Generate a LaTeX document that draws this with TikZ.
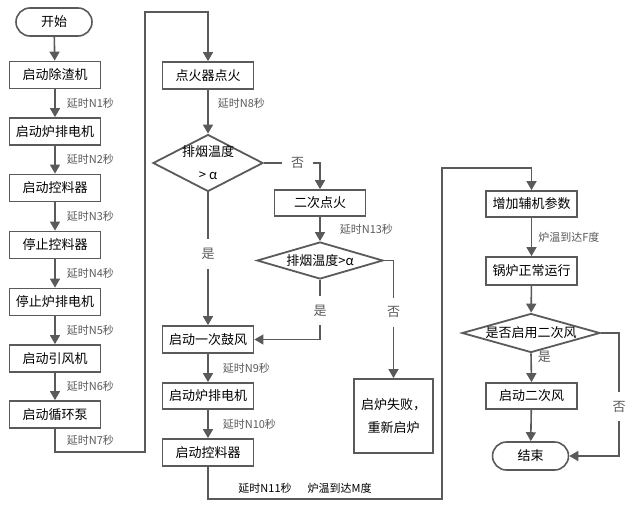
\documentclass[tikz,border=0pt]{standalone}
\usepackage{fontspec}
\setmainfont{Noto Sans CJK SC}
\usepackage{xcolor}
\usetikzlibrary{shapes.geometric, arrows.meta}
\definecolor{linegray}{HTML}{5A5A5A}
\tikzstyle{startstop} = [rectangle, rounded corners=14pt, minimum width=76pt, minimum height=28pt, text centered, draw=linegray, line width=1.6pt, font=\fontsize{13}{16}\selectfont]
\tikzstyle{process} = [rectangle, minimum width=91pt, minimum height=27pt, inner sep=0pt, text centered, draw=linegray, line width=1.8pt, font=\fontsize{13}{16}\selectfont]
\tikzstyle{decision} = [diamond, inner sep=0pt, text centered, draw=linegray, line width=1.8pt, font=\fontsize{13}{16}\selectfont]
\tikzstyle{delay} = [inner sep=0pt, anchor=west, font=\fontsize{11}{13}\selectfont]
\tikzstyle{branch} = [fill=white, inner sep=9pt, font=\fontsize{13}{16}\selectfont]
\tikzstyle{arrow} = [linegray, line width=1.6pt, -{Triangle[width=10pt,length=9pt]}]
\tikzstyle{line} = [linegray, line width=1.6pt]

\begin{document}
\begin{tikzpicture}[x=1pt, y=-1pt]
        \useasboundingbox (0,0) rectangle (628,509);

        % left column
        \node (start) [startstop] at (54,22) {开始};
        \node (slag) [process] at (55,75) {启动除渣机};
        \node (grate) [process] at (55,131.5) {启动炉排电机};
        \node (feeder) [process] at (55,188) {启动控料器};
        \node (stopfeed) [process] at (55,245) {停止控料器};
        \node (stopgrate) [process] at (55,302) {停止炉排电机};
        \node (draft) [process] at (55,358.5) {启动引风机};
        \node (pump) [process] at (55,414.5) {启动循环泵};

        % middle column
        \node (ignite) [process] at (208,75.5) {点火器点火};
        \node (smoke) [decision, minimum width=110pt, minimum height=57pt, align=center] at (208,163)
        {\makebox[0pt]{排烟温度}\\[7pt]\makebox[0pt]{> α}};
        \node (reignite) [process, minimum height=26pt] at (320,203) {二次点火};
        \node (smoke2) [decision, minimum width=126pt, minimum height=37pt] at (320,260.5)
        {\makebox[0pt]{排烟温度>α}};
        \node (fan) [process] at (208,339.5) {启动一次鼓风};
        \node (grate2) [process, minimum height=26pt] at (208,396) {启动炉排电机};
        \node (feeder2) [process] at (208,452.5) {启动控料器};
        \node (fail) [process, minimum width=79pt, minimum height=74pt, align=center] at (393.5,416)
        {启炉失败，\\[7pt]重新启炉};

        % right column
        \node (boost) [process, minimum height=26pt] at (531.5,204) {增加辅机参数};
        \node (normal) [process, minimum height=28pt] at (531.5,271) {锅炉正常运行};
        \node (ask) [decision, minimum width=138pt, minimum height=39pt] at (531,333)
        {\makebox[0pt]{是否启用二次风}};
        \node (fan2) [process, minimum height=26pt] at (531.5,396) {启动二次风};
        \node (finish) [startstop] at (530.5,456) {结束};

        \coordinate (c1) at (145,452);
        \coordinate (c2) at (145,12);
        \coordinate (c3) at (442,499);
        \coordinate (c4) at (442,168);
        \coordinate (c5) at (619,333);

        \draw [arrow] (start) -- (slag);
        \draw [arrow] (slag) -- node[delay, xshift=11pt] {延时N1秒} (grate);
        \draw [arrow] (grate) -- node[delay, xshift=11pt] {延时N2秒} (feeder);
        \draw [arrow] (feeder) -- node[delay, xshift=11pt] {延时N3秒} (stopfeed);
        \draw [arrow] (stopfeed) -- node[delay, xshift=11pt] {延时N4秒} (stopgrate);
        \draw [arrow] (stopgrate) -- node[delay, xshift=11pt] {延时N5秒} (draft);
        \draw [arrow] (draft) -- node[delay, xshift=11pt] {延时N6秒} (pump);
        \draw [arrow] (pump.south) |- node[delay, pos=.25, xshift=11pt] {延时N7秒} (c1) -- (c2) -| (ignite.north);

        \draw [arrow] (ignite) -- node[delay, pos=.3, xshift=9pt] {延时N8秒} (smoke);
        \draw [arrow] (smoke.east) -| node[branch, pos=.3] {否} (reignite.north);
        \draw [arrow] (smoke.south) -- node[branch, pos=.465] {是} (fan.north);
        \draw [arrow] (reignite) -- node[delay, xshift=19pt] {延时N13秒} (smoke2);
        \draw [arrow] (smoke2.south) |- node[branch, pos=.256] {是} (fan.east);
        \draw [arrow] (smoke2.east) -| node[branch, pos=.72] {否} (fail.north);
        \draw [arrow] (fan) -- node[delay, xshift=14pt] {延时N9秒} (grate2);
        \draw [arrow] (grate2) -- node[delay, xshift=14pt] {延时N10秒} (feeder2);
        \draw [arrow] (feeder2.south) |- (c3) -- (c4) -| (boost.north);
        \node (warmup) [delay, anchor=center] at (305,488) {延时N11秒\hspace{16pt}炉温到达M度};

        \draw [arrow] (boost) -- node[delay, xshift=6pt] {炉温到达F度} (normal);
        \draw [arrow] (normal) -- (ask);
        \draw [arrow] (ask.south) -- node[pos=.12, right, inner sep=6pt, font=\fontsize{13}{16}\selectfont] {是} (fan2.north);
        \draw [arrow] (fan2) -- (finish);
        \draw [arrow] (ask.east) -- (c5) |- node[branch, pos=.3] {否} (finish.east);

    \end{tikzpicture}
\end{document}
